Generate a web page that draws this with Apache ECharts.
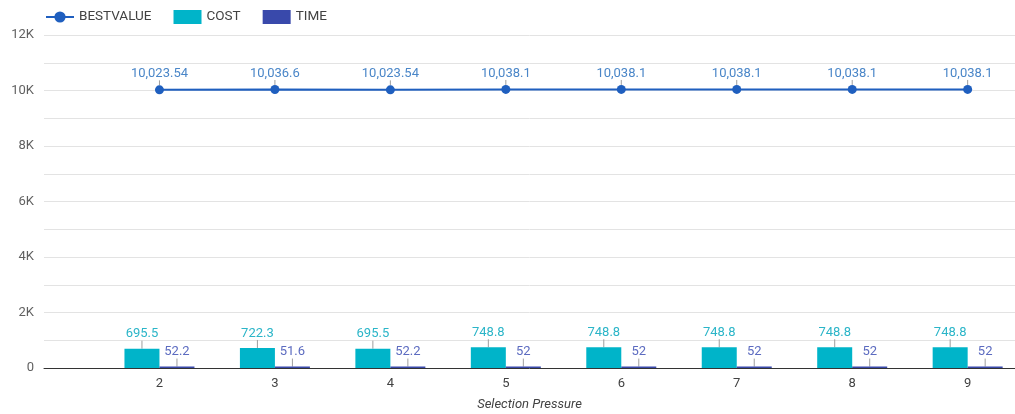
<!DOCTYPE html>
<html>
<head>
<meta charset="utf-8">
<script src="https://cdn.jsdelivr.net/npm/echarts@6/dist/echarts.min.js"></script>
<style>
  html, body { margin: 0; padding: 0; background: #fff; }
  #chart { width: 1015px; height: 414px; }
</style>
</head>
<body>
<div id="chart"></div>
<script>
// Selection pressure levels on the x axis
const pressures = [2, 3, 4, 5, 6, 7, 8, 9];
// Best value found for each pressure
const bestValue = [10023.54, 10036.6, 10023.54, 10038.1, 10038.1, 10038.1, 10038.1, 10038.1];
// Cost and time per run
const cost = [695.5, 722.3, 695.5, 748.8, 748.8, 748.8, 748.8, 748.8];
const time = [52.2, 51.6, 52.2, 52, 52, 52, 52, 52];

const fmt = v => v.toLocaleString('en-US', { maximumFractionDigits: 2 });
const font = 'Roboto, "Noto Sans", sans-serif';

function pairs(values) {
  return pressures.map((p, i) => [p, values[i]]);
}

function markLabel(color) {
  return {
    show: true,
    position: 'top',
    distance: 2,
    color: color,
    fontFamily: font,
    fontSize: 13,
    formatter: p => fmt(p.value[1])
  };
}

const labelLine = { show: true, lineStyle: { color: '#9e9e9e', width: 1 } };

const chart = echarts.init(document.getElementById('chart'));
chart.setOption({
  animation: false,
  textStyle: { fontFamily: font },
  legend: {
    left: 40,
    top: 5,
    itemWidth: 28,
    itemHeight: 14,
    itemGap: 22,
    textStyle: { color: '#424242', fontSize: 13.5, fontFamily: font },
    data: [
      { name: 'BESTVALUE', itemStyle: { borderWidth: 0 } },
      { name: 'COST', icon: 'rect' },
      { name: 'TIME', icon: 'rect' }
    ]
  },
  grid: { left: 44, right: 0, top: 35, bottom: 46, containLabel: false, outerBoundsMode: 'none' },
  xAxis: {
    type: 'value',
    min: 1,
    max: 9.41,
    interval: 1,
    name: 'Selection Pressure',
    nameLocation: 'middle',
    nameGap: 30,
    nameTextStyle: { fontStyle: 'italic', color: '#424242', fontSize: 13, fontFamily: font },
    axisLine: { show: true, onZero: false, lineStyle: { color: '#333', width: 1 } },
    axisTick: { show: false },
    splitLine: { show: false },
    axisLabel: {
      color: '#424242',
      fontSize: 13,
      margin: 9,
      showMaxLabel: false,
      formatter: v => (pressures.includes(v) ? String(v) : '')
    }
  },
  yAxis: {
    type: 'value',
    min: 0,
    max: 12000,
    interval: 1000,
    axisLine: { show: false },
    axisTick: { show: false },
    splitLine: { lineStyle: { color: '#e3e3e3', width: 1 } },
    axisLabel: {
      color: '#616161',
      fontSize: 13,
      margin: 10,
      formatter: v => (v === 0 ? '0' : (v % 2000 === 0 ? (v / 1000) + 'K' : ''))
    }
  },
  series: [
    {
      name: 'COST',
      type: 'bar',
      data: pairs(cost),
      barWidth: 35,
      barGap: '0%',
      itemStyle: { color: '#00b4c9' },
      label: markLabel('#2bb5c8'),
      labelLayout: { dy: -6 },
      labelLine: labelLine
    },
    {
      name: 'TIME',
      type: 'bar',
      data: pairs(time),
      barWidth: 35,
      barGap: '0%',
      itemStyle: { color: '#3949ab' },
      label: markLabel('#5c6bc0'),
      labelLayout: { dy: -6 },
      labelLine: labelLine
    },
    {
      name: 'BESTVALUE',
      type: 'line',
      data: pairs(bestValue),
      symbol: 'circle',
      symbolSize: 9,
      lineStyle: { color: '#1f5fbf', width: 2 },
      itemStyle: { color: '#1f5fbf' },
      label: markLabel('#4a86c8'),
      labelLayout: { dy: -3 },
      labelLine: labelLine
    }
  ]
});
</script>
</body>
</html>
